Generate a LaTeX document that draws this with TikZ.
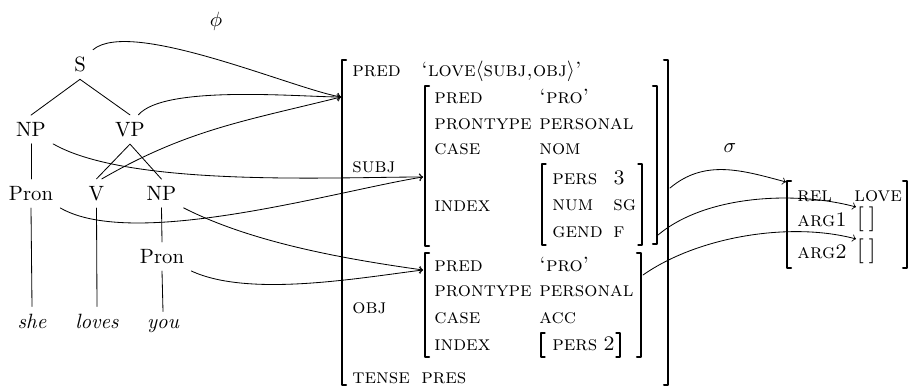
\documentclass[tikz,border=0pt]{standalone}
\begin{document}
\begin{tikzpicture}[x=0.017cm, y=-0.017cm, line join=round, line cap=round, >=to,
  leaf/.style={anchor=base, font=\itshape},
  att/.style={anchor=base west, inner sep=0pt, font=\scshape},
  brk/.style={line width=1pt},
  sbrk/.style={line width=0.6pt}]
\useasboundingbox (0,0) rectangle (910,388);
% c-structure
\node (phi) at (216,21) {$\phi$};
\node (S) at (80,64.5) {S};
\node (NPa) at (31,129.5) {NP};
\node (VP) at (130,129.5) {VP};
\node (PronA) at (31,193.5) {Pron};
\node (V) at (96.5,193.5) {V};
\node (NPb) at (161.5,193.5) {NP};
\node (PronB) at (162,256.5) {Pron};
\node[leaf] (she) at (32,328) {she};
\node[leaf] (loves) at (97,328) {loves};
\node[leaf] (you) at (163,328) {you};
\draw (S.south) -- (NPa.north);
\draw (S.south) -- (VP.north);
\draw (NPa.south) -- (PronA.north);
\draw (VP.south) -- (V.north);
\draw (VP.south) -- (NPb.north);
\draw (NPb.south) -- (PronB.north);
\draw (PronA.south) -- (she.north);
\draw (V.south) -- (loves.north);
\draw (PronB.south) -- (you.north);
% f-structure brackets
\draw[brk] (346,60) -| (342,385) -- (346,385);
\draw[brk] (664,60) -| (668,385) -- (664,385);
\draw[brk] (429,86) -| (425,246) -- (429,246);
\draw[brk] (653,86) -| (657,244) -- (653,244);
\draw[sbrk] (546,164) -| (542,245) -- (546,245);
\draw[sbrk] (638,164) -| (642,245) -- (638,245);
\draw[brk] (429,253) -| (425,357) -- (429,357);
\draw[brk] (637,253) -| (641,357) -- (637,357);
\draw[sbrk] (545,333) -| (541,357) -- (545,357);
\draw[sbrk] (616,333) -| (620,357) -- (616,357);
% f-structure
\node[att] (pred) at (352,77) {pred};
\node[att] (predV) at (421,77) {`love$\langle$subj,obj$\rangle$'};
\node[att] (subj) at (352,173) {subj};
\node[att] (obj) at (352,314) {obj};
\node[att] (tense) at (352,383) {tense};
\node[att] (pres) at (421,383) {pres};
% subj
\node[att] (sPred) at (434,104) {pred};
\node[att] (sPredV) at (539,104) {`pro'};
\node[att] (sPrt) at (434,130) {prontype};
\node[att] (sPrtV) at (539,130) {personal};
\node[att] (sCase) at (434,155) {case};
\node[att] (sCaseV) at (539,155) {nom};
\node[att] (sIdx) at (434,212) {index};
\node[att] (pers) at (552,185) {pers};
\node[att] (persV) at (613,185) {3};
\node[att] (num) at (552,211) {num};
\node[att] (numV) at (613,211) {sg};
\node[att] (gend) at (552,237) {gend};
\node[att] (gendV) at (613,237) {f};
% obj
\node[att] (oPred) at (434,272) {pred};
\node[att] (oPredV) at (539,272) {`pro'};
\node[att] (oPrt) at (434,297) {prontype};
\node[att] (oPrtV) at (539,297) {personal};
\node[att] (oCase) at (434,323) {case};
\node[att] (oCaseV) at (539,323) {acc};
\node[att] (oIdx) at (434,350) {index};
\node[att] (oPers) at (552,350) {pers};
\node[att] (oPersV) at (603,350) {2};
% s-structure
\node (sigma) at (730,148) {$\sigma$};
\draw[brk] (791,181) -| (787,268) -- (791,268);
\draw[brk] (903,181) -| (907,268) -- (903,268);
\node[att] (rel) at (797,202) {rel};
\node[att] (relV) at (854,202) {love};
\node[att] (arg1) at (797,227) {arg1};
\node[att] (arg1V) at (856,226) {\large[\,]};
\node[att] (arg2) at (797,259) {arg2};
\node[att] (arg2V) at (856,258) {\large[\,]};
% projections
\coordinate (fL) at (341,97);
\coordinate (sL) at (423,177);
\coordinate (oL) at (423,270);
\coordinate (fR) at (670,188);
\coordinate (sR) at (658,235);
\coordinate (oR) at (643,275);
\coordinate (gL) at (786,182);
\draw[->] (S.north east) to[out=40, in=170, looseness=0.5] (fL);
\draw[->] (VP.60) to[out=50, in=180, looseness=0.5] (fL);
\draw[->] (V.70) to[out=30, in=194] (fL);
\draw[->] (NPa.south east) to[out=-30, in=180, looseness=0.6] (sL);
\draw[->] (PronA.south east) to[out=-30, in=189, looseness=0.6] (sL);
\draw[->] (NPb.south east) to[out=-27, in=172, looseness=0.8] (oL);
\draw[->] (PronB.south east) to[out=-25, in=187, looseness=0.7] (oL);
\draw[->] (fR) to[out=40, in=165] (gL);
\draw[->] (sR) to[out=40, in=165, looseness=0.8] (arg1V.north west);
\draw[->] (oR) to[out=35, in=165, looseness=0.8] (arg2V.north west);
\end{tikzpicture}
\end{document}
